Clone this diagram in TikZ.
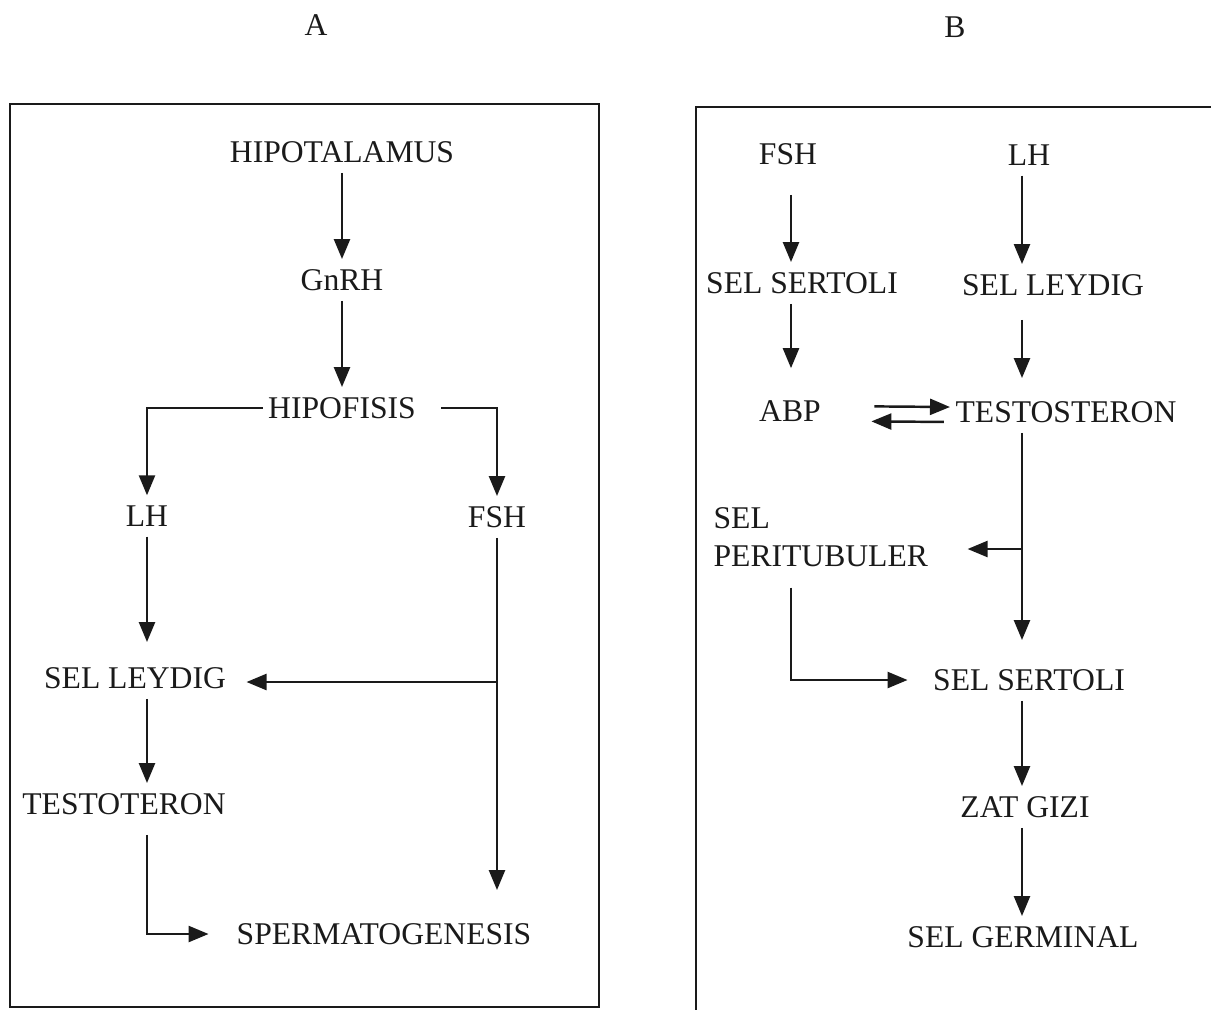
\documentclass[tikz,border=0pt]{standalone}
\usepackage{fontspec}
\setmainfont{Liberation Serif}
\usepackage{tikz}
\usetikzlibrary{positioning, arrows.meta}
\definecolor{nInk}{HTML}{1A1A1A}
\tikzset{
  lbl/.style={font=\fontsize{18}{22}\selectfont, text=nInk, inner xsep=3pt, inner ysep=0.2cm},
  arr/.style={draw=nInk, line width=1.4pt, -{Triangle[length=0.4cm, width=0.32cm]}},
  frame/.style={draw=nInk, line width=1.3pt},
}
\begin{document}
\begin{tikzpicture}[x=0.02cm, y=-0.02cm]
  \useasboundingbox (0,0) rectangle (1211,1009);
  \clip (0,0) rectangle (1211,1009);
  % panel frames
  \draw[frame] (10,104) rectangle (599,1007);
  \draw[frame] (696,1020) |- (1230,107);
  \node[lbl] (capA) at (316,25) {A};
  \node[lbl] (capB) at (955,27) {B};

  % panel A
  \coordinate (lcol) at (147,0);
  \node[lbl] (hipot) at (342,152) {HIPOTALAMUS};
  \node[lbl] (gnrh) at (342,280) {GnRH};
  \node[lbl] (hipof) at (342,408) {HIPOFISIS};
  \node[lbl] (llh) at (147,516) {LH};
  \node[lbl] (lfsh) at (497,517) {FSH};
  \node[lbl] (lleyd) at (135,678) {SEL LEYDIG};
  \node[lbl] (testo) at (124,804) {TESTOTERON};
  \node[lbl] (sperm) at (384,934) {SPERMATOGENESIS};

  \draw[arr] (hipot) -- (gnrh);
  \draw[arr] (gnrh) -- (hipof);
  \draw[arr] (hipof.west) -| (llh.north);
  \draw[arr] ([xshift=0.4cm]hipof.east) -| (lfsh.north);
  \draw[arr, shorten >=0.3cm] (llh) -- (llh |- lleyd.north);
  \draw[arr] (lcol |- lleyd.south) -- (lcol |- testo.north);
  \draw[arr, shorten >=0.45cm] ([yshift=-0.2cm]lcol |- testo.south) |- (sperm.west);
  \draw[arr, shorten >=0.46cm] (lfsh) -- (lfsh |- sperm.north);
  \draw[arr, shorten >=0.3cm] ([yshift=-0.08cm]lfsh |- lleyd) -- ([yshift=-0.08cm]lleyd.east);

  % panel B
  \coordinate (rcolA) at (791,0);
  \coordinate (rcolB) at (1022,0);
  \node[lbl] (rfsh) at (788,154) {FSH};
  \node[lbl] (rlh) at (1029,155) {LH};
  \node[lbl] (rsert) at (802,283) {SEL SERTOLI};
  \node[lbl] (rleyd) at (1053,285) {SEL LEYDIG};
  \node[lbl] (abp) at (790,411) {ABP};
  \node[lbl] (rtes) at (1066,412) {TESTOSTERON};
  \node[lbl, align=left, anchor=north west] (peri) at (708,497) {SEL\\PERITUBULER};
  \node[lbl] (rsert2) at (1029,680) {SEL SERTOLI};
  \node[lbl] (zat) at (1025,807) {ZAT GIZI};
  \node[lbl] (germ) at (1023,937) {SEL GERMINAL};
  \coordinate (rbranch) at (1022,549);

  \draw[arr, shorten <=0.4cm] (rcolA |- rfsh.south) -- (rcolA |- rsert.north);
  \draw[arr, shorten >=0.44cm] (rcolA |- rsert.south) -- (rcolA |- abp.north);
  \draw[arr] (rcolB |- rlh.south) -- (rcolB |- rleyd.north);
  \draw[arr, shorten <=0.28cm, shorten >=0.26cm] (rcolB |- rleyd.south) -- (rcolB |- rtes.north);
  \draw[arr, shorten <=0.96cm] ([yshift=0.1cm]abp.east) -- ([yshift=0.1cm]rtes.west);
  \draw[arr, shorten <=0.12cm, shorten >=0.9cm] ([yshift=-0.2cm]rtes.west) -- ([yshift=-0.2cm]abp.east);
  \draw[arr, shorten >=0.38cm] (rcolB |- rtes.south) -- (rcolB |- rsert2.north);
  \draw[arr, shorten >=0.68cm] (rbranch) -- (rbranch -| peri.east);
  \draw[arr, shorten >=0.4cm] ([yshift=-0.2cm]rcolA |- peri.south) |- (rsert2.west);
  \draw[arr] (rcolB |- rsert2.south) -- (rcolB |- zat.north);
  \draw[arr] (rcolB |- zat.south) -- (rcolB |- germ.north);
\end{tikzpicture}
\end{document}
